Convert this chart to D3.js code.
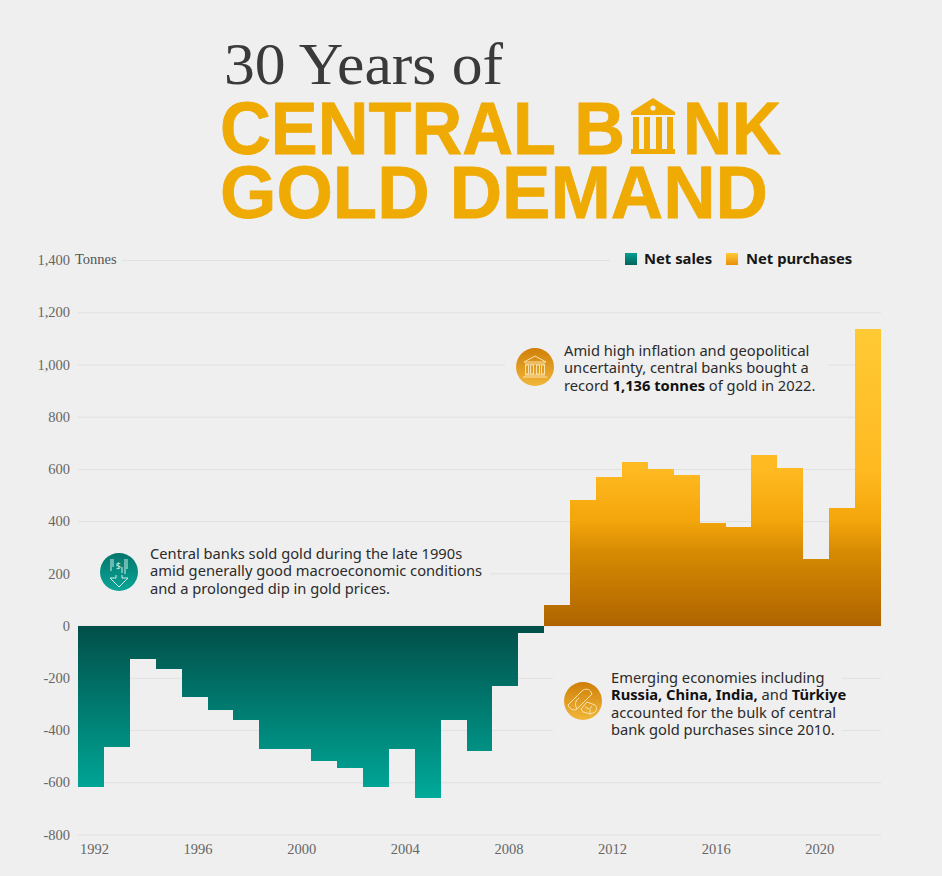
<!DOCTYPE html>
<html>
<head>
<meta charset="utf-8">
<script src="https://cdn.jsdelivr.net/npm/d3@7/dist/d3.min.js"></script>
<style>
    html, body { margin: 0; padding: 0; background: #efefef; }
    svg { display: block; }
    .axis text { font-family: "Liberation Serif", serif; font-size: 14.5px; fill: #666; }
    .note { font-family: "Noto Sans", sans-serif; font-size: 14.7px; fill: #2b2b2b; }
    .note .b { font-weight: 700; fill: #111; }
    .legend { font-family: "Noto Sans", sans-serif; font-size: 14.8px; font-weight: 700; fill: #161616; }
</style>
</head>
<body>
<div id="chart"></div>
<script>
var years = [1992, 1993, 1994, 1995, 1996, 1997, 1998, 1999, 2000, 2001, 2002, 2003, 2004, 2005, 2006, 2007,
    2008, 2009, 2010, 2011, 2012, 2013, 2014, 2015, 2016, 2017, 2018, 2019, 2020, 2021, 2022];
var tonnes = [-619, -466, -129, -166, -275, -323, -362, -473, -473, -519, -545, -618, -473, -660, -362, -480,
    -231, -28, 80, 481, 569, 626, 600, 577, 394, 379, 653, 605, 255, 450, 1136];
var yTicks = [1400, 1200, 1000, 800, 600, 400, 200, 0, -200, -400, -600, -800];
var xTicks = [1992, 1996, 2000, 2004, 2008, 2012, 2016, 2020];

var noteTop = [
    [["Amid high inflation and geopolitical", 0]],
    [["uncertainty, central banks bought a", 0]],
    [["record ", 0], ["1,136 tonnes", 1], [" of gold in 2022.", 0]]
];
var noteLeft = [
    [["Central banks sold gold during the late 1990s", 0]],
    [["amid generally good macroeconomic conditions", 0]],
    [["and a prolonged dip in gold prices.", 0]]
];
var noteRight = [
    [["Emerging economies including", 0]],
    [["Russia, China, India,", 1], [" and ", 0], ["Türkiye", 1]],
    [["accounted for the bulk of central", 0]],
    [["bank gold purchases since 2010.", 0]]
];

var BG = "#efefef";
var width = 942, height = 876;

var svg = d3.select("#chart").append("svg")
    .attr("width", width)
    .attr("height", height);

svg.append("rect").attr("width", width).attr("height", height).attr("fill", BG);

var x = d3.scaleBand().domain(years).range([78, 881]);
var y = d3.scaleLinear().domain([-800, 1400]).range([834.5, 260]);

var defs = svg.append("defs");

function gradient(id, x1, y1, x2, y2, stops, units) {
    var g = defs.append("linearGradient").attr("id", id)
        .attr("x1", x1).attr("y1", y1).attr("x2", x2).attr("y2", y2);
    if (units) g.attr("gradientUnits", units);
    stops.forEach(function(s) {
        g.append("stop").attr("offset", s[0]).attr("stop-color", s[1]);
    });
}

gradient("tealBars", 0, y(0), 0, y(-660), [[0, "#014f49"], [1, "#00aa9a"]], "userSpaceOnUse");
gradient("goldBars", 0, y(0), 0, y(1136),
    [[0, "#af6400"], [0.245, "#d68a03"], [0.357, "#f4a60b"], [0.525, "#ffb921"], [1, "#ffca35"]], "userSpaceOnUse");
gradient("tealSwatch", 0, 0, 0, 1, [[0, "#00a090"], [1, "#03635b"]]);
gradient("goldSwatch", 0, 0, 0, 1, [[0, "#ffca35"], [1, "#e88f0c"]]);
gradient("tealIcon", 0, 0, 0, 1, [[0, "#04756c"], [1, "#0aa697"]]);
gradient("goldIcon", 0, 0, 0, 1, [[0, "#cf7f08"], [1, "#f1b73a"]]);

// title
var title = svg.append("g").attr("text-anchor", "start");
title.append("text")
    .attr("x", 224).attr("y", 84)
    .attr("font-family", "Liberation Serif, serif")
    .attr("font-size", 60)
    .attr("fill", "#3a3a3a")
    .attr("textLength", 279)
    .attr("lengthAdjust", "spacingAndGlyphs")
    .text("30 Years of");

function bigWord(txt, xPos, yPos, len) {
    title.append("text")
        .attr("x", xPos).attr("y", yPos)
        .attr("font-family", "Liberation Sans, sans-serif")
        .attr("font-weight", 700)
        .attr("font-size", 75)
        .attr("fill", "#efaa03")
        .attr("stroke", "#efaa03")
        .attr("stroke-width", 0.8)
        .attr("textLength", len)
        .attr("lengthAdjust", "spacingAndGlyphs")
        .text(txt);
}
bigWord("CENTRAL B", 220, 154, 405);
bigWord("NK", 683, 154, 98);
bigWord("GOLD DEMAND", 220, 218, 548);

// the bank building standing in for the A
var bank = svg.append("g").attr("transform", "translate(653,127)").attr("fill", "#efaa03");
bank.append("path").attr("d", "M0,-29 L22,-15 L22,-12 L-22,-12 L-22,-15 Z");
bank.append("circle").attr("cx", 0).attr("cy", -19).attr("r", 2.6).attr("fill", BG);
[-17, -6, 6, 17].forEach(function(d) {
    bank.append("rect").attr("x", d - 3).attr("y", -10).attr("width", 6).attr("height", 32);
});
bank.append("rect").attr("x", -22).attr("y", 22).attr("width", 44).attr("height", 5);

// y axis with gridlines
var yAxis = d3.axisLeft(y)
    .tickValues(yTicks)
    .tickFormat(function(d) { return d3.format(",")(d).replace("\u2212", "-"); })
    .tickSize(0)
    .tickPadding(8);

var gy = svg.append("g").attr("class", "axis").attr("transform", "translate(78,0)").call(yAxis);
gy.select(".domain").remove();
gy.selectAll("text").attr("dy", "0.32em");

gy.selectAll(".tick").append("line")
    .attr("x1", function(d) { return d == 1400 ? 44 : 0; })
    .attr("x2", function(d) { return d == 1400 ? 532 : 803; })
    .attr("stroke", "#e0e0e0")
    .attr("stroke-width", 1);

svg.append("text")
    .attr("x", 75).attr("y", y(1400) - 1)
    .attr("dy", "0.32em")
    .attr("font-family", "Liberation Serif, serif")
    .attr("font-size", 14.5)
    .attr("fill", "#555")
    .text("Tonnes");

// gaps in the gridlines around the notes
[[505, 340, 323, 60], [78, 545, 412, 55], [553, 665, 289, 80]].forEach(function(r) {
    svg.append("rect").attr("x", r[0]).attr("y", r[1]).attr("width", r[2]).attr("height", r[3]).attr("fill", BG);
});

// bars
svg.append("g").attr("shape-rendering", "crispEdges").selectAll("rect")
    .data(years)
    .enter()
    .append("rect")
    .attr("x", function(d) { return Math.round(x(d)); })
    .attr("width", function(d) { return Math.round(x(d) + x.bandwidth()) - Math.round(x(d)); })
    .attr("y", function(d, i) { return y(Math.max(0, tonnes[i])); })
    .attr("height", function(d, i) { return Math.abs(y(tonnes[i]) - y(0)); })
    .attr("fill", function(d, i) { return tonnes[i] < 0 ? "url(#tealBars)" : "url(#goldBars)"; });

// x axis
var xAxis = d3.axisBottom(x).tickValues(xTicks).tickSize(0).tickPadding(0);
var gx = svg.append("g").attr("class", "axis").attr("transform", "translate(3.5,844)").call(xAxis);
gx.select(".domain").remove();

// legend
var legend = svg.append("g");
[["Net sales", 625, 644, "url(#tealSwatch)"], ["Net purchases", 726, 746, "url(#goldSwatch)"]].forEach(function(l) {
    legend.append("rect").attr("x", l[1]).attr("y", 253).attr("width", 12).attr("height", 12).attr("fill", l[3]);
    legend.append("text").attr("class", "legend").attr("x", l[2]).attr("y", 264).text(l[0]);
});

// annotations
function note(lines, xPos, yPos) {
    var t = svg.append("text").attr("class", "note");
    lines.forEach(function(line, i) {
        line.forEach(function(run, j) {
            var s = t.append("tspan").text(run[0]);
            if (j == 0) s.attr("x", xPos).attr("y", yPos + i * 17.3);
            if (run[1]) s.attr("class", "b");
        });
    });
}
note(noteTop, 564, 356);
note(noteLeft, 150, 559);
note(noteRight, 611, 683);

function badge(cx, cy, fill, line) {
    var g = svg.append("g").attr("transform", "translate(" + cx + "," + cy + ")");
    g.append("circle").attr("r", 19).attr("fill", fill);
    return g.append("g").attr("fill", "none").attr("stroke", line).attr("stroke-width", 1);
}

var i1 = badge(535, 367, "url(#goldIcon)", "#fbe3b0");
i1.append("path").attr("d", "M-11,-5 L0,-11 L11,-5 Z M-10,-3 H10 M-10,8 H10 M-12,10 H12");
[-8, -3, 3, 8].forEach(function(d) {
    i1.append("rect").attr("x", d - 1.5).attr("y", -2).attr("width", 3).attr("height", 9);
});

var i2 = badge(119, 572, "url(#tealIcon)", "#cfeee9");
i2.append("path").attr("d", "M-3,3 V6 H-9 L0,15 L9,6 H3 V3");
i2.append("path").attr("d", "M-8,-13 V-1 M-6,-13 V-5 M6,-13 V2 M8,-13 V-3 M3,-5 V1");
i2.append("text").attr("x", -3.2).attr("y", -3).attr("fill", "#cfeee9").attr("stroke", "none")
    .attr("font-family", "Noto Sans, sans-serif").attr("font-size", 9).text("$");

var i3 = badge(583, 701, "url(#goldIcon)", "#fbe3b0");
i3.append("path").attr("d", "M-15,4 L-1,-10 C2,-13 7,-12 8,-9 L9,-7 L-6,8 C-9,10 -13,9 -15,4 Z M-6,8 C-9,3 -7,-1 -4,-3");
i3.append("path").attr("d", "M-2,8 L4,1 L12,4 C14,6 14,9 12,11 L8,13 L0,11 Z M8,13 C6,10 7,7 9,5 M2,6 L6,8");
</script>
</body>
</html>
